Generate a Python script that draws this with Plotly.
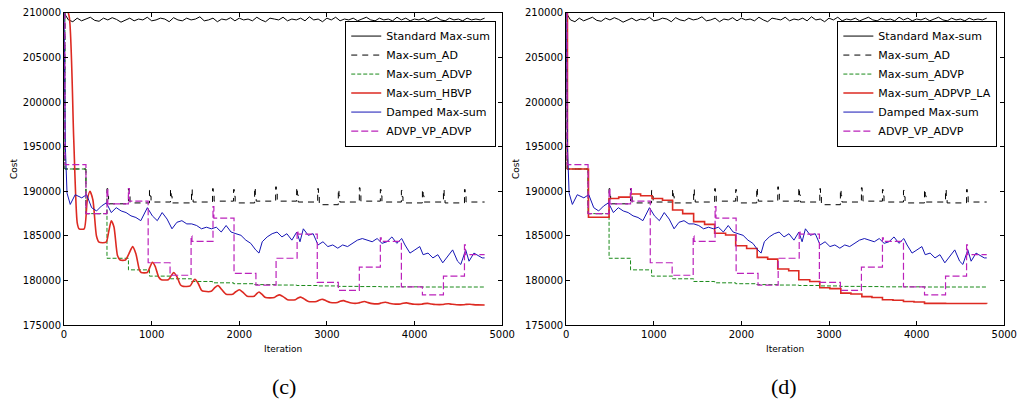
import plotly.graph_objects as go

# ---------------- data ----------------
# Standard Max-sum (noisy, sampled every 50 iterations)
std_step = 50
std_cost = [210000, 209200, 209000, 209400, 209100, 209300, 209500, 209150, 209050, 209400,
            209200, 209450, 209250, 208950, 209200, 209400, 209100, 209300, 209200, 209500,
            209100, 209200, 209400, 209300, 209000, 209450, 209200, 209100, 209400, 209200,
            209300, 209550, 209100, 209200, 209400, 209000, 209300, 209200, 209450, 209100,
            209400, 209200, 209300, 209100, 209500, 209200, 209000, 209400, 209300, 209200,
            209500, 209100, 209300, 209200, 209400, 209100, 209550, 209200, 209300, 209000,
            209400, 209200, 209500, 209100, 209300, 209200, 209400, 209100, 209300, 209500,
            209200, 209100, 209400, 209200, 209300, 209100, 209500, 209200, 209400, 209100,
            209300, 209200, 209400, 209100, 209300, 209500, 209200, 209100, 209400, 209200,
            209300, 209100, 209400, 209200, 209300, 209200, 209400]

# Max-sum_AD: initial part + periodic spikes
ad_start_iter = [0, 10, 250]
ad_start_cost = [210000, 192500, 187500]
ad_spike_iter = [490, 735, 975, 1215, 1455, 1695, 1935, 2175, 2415, 2655, 2895, 3130,
                 3370, 3610, 3850, 4090, 4330, 4570]
ad_spike_peak = [190300, 190300, 190100, 190200, 190200, 190300, 190200, 190400, 190500,
                 190400, 190300, 190200, 190400, 190200, 190100, 190200, 190200, 190200]
ad_spike_base = [188600, 188700, 188800, 188700, 188800, 188900, 188700, 188900, 188900,
                 188800, 188500, 188800, 188900, 188800, 188700, 188800, 188700, 188800]
ad_end_iter = 4800

# Max-sum_ADVP (step)
advp_iter = [0, 10, 250, 490, 735, 975, 1215, 1455, 1695, 1935, 2175, 2415, 2655, 2895,
             3130, 3370, 3610, 3850, 4090, 4330, 4800]
advp_cost = [210000, 192500, 187500, 182500, 181200, 180500, 180200, 179900, 179750, 179650,
             179550, 179500, 179450, 179400, 179350, 179330, 179300, 179300, 179280, 179280,
             179280]

# Max-sum_HBVP (panel c)
hbvp_iter = [0, 60, 110, 150, 172, 230, 265, 296, 330, 370, 400, 480, 510, 539, 570, 610, 640,
             700, 740, 783, 820, 860, 880, 950, 980, 1008, 1040, 1080, 1110, 1190, 1220,
             1251, 1290, 1330, 1360, 1440, 1470, 1494, 1530, 1570, 1600, 1680, 1720, 1757,
             1800, 1850, 1925, 1960, 2000, 2040, 2090, 2170, 2200, 2225, 2260, 2300, 2400,
             2430, 2460, 2500, 2550, 2640, 2670, 2700, 2740, 2790, 2880, 2910, 2950, 2990,
             3040, 3120, 3150, 3190, 3230, 3280, 3360, 3390, 3430, 3470, 3520, 3600, 3630,
             3670, 3710, 3760, 3840, 3870, 3910, 3950, 4000, 4080, 4110, 4150, 4190, 4240,
             4320, 4350, 4390, 4430, 4480, 4560, 4590, 4630, 4670, 4720, 4800]
hbvp_cost = [211500, 209500, 196000, 186500, 185800, 185800, 189000, 190000, 189000, 185000,
             184300, 184300, 185500, 186700, 186000, 182800, 182300, 182300, 183000, 183800,
             183000, 181200, 180900, 180900, 181500, 182050, 181600, 180400, 180100, 180100,
             180500, 180900, 180400, 179500, 179350, 179400, 179900, 180150, 179700, 178900,
             178800, 178800, 179200, 179450, 179000, 178470, 178470, 178750, 178970, 178700,
             178250, 178250, 178550, 178720, 178450, 178100, 178100, 178300, 178400, 178200,
             177850, 177850, 178050, 178150, 177950, 177650, 177650, 177800, 177900, 177750,
             177550, 177550, 177680, 177750, 177620, 177480, 177480, 177580, 177650, 177530,
             177420, 177420, 177520, 177570, 177470, 177380, 177380, 177460, 177500, 177420,
             177350, 177350, 177420, 177450, 177380, 177320, 177320, 177370, 177400, 177340,
             177290, 177290, 177330, 177350, 177310, 177280, 177270]

# Max-sum_ADPVP_LA (panel d, step)
la_iter = [0, 15, 255, 490, 600, 735, 850, 980, 1100, 1215, 1330, 1455, 1580, 1695, 1820,
           1935, 2060, 2180, 2300, 2415, 2540, 2655, 2780, 2895, 3010, 3135, 3250, 3375,
           3490, 3610, 3730, 3850, 3970, 4090, 4330, 4800]
la_cost = [211000, 192500, 187100, 189200, 189350, 189700, 189500, 189200, 189000, 187900,
           187500, 186600, 186300, 185300, 185100, 183900, 183600, 182600, 182400, 181300,
           181100, 180100, 179900, 179200, 179100, 178600, 178500, 178200, 178100, 177850,
           177800, 177650, 177600, 177450, 177430, 177400]

# Damped Max-sum (noisy)
damped_iter = [0, 15, 34, 71, 127, 202, 258, 315, 371, 427, 483, 539, 596, 652, 708, 764,
               820, 876, 951, 1008, 1064, 1120, 1176, 1232, 1288, 1345, 1401, 1457, 1513,
               1569, 1625, 1682, 1738, 1794, 1850, 1906, 1962, 2019, 2075, 2131, 2187, 2225,
               2262, 2318, 2375, 2431, 2487, 2543, 2600, 2656, 2693, 2731, 2787, 2843, 2899,
               2955, 3011, 3067, 3124, 3180, 3236, 3292, 3348, 3404, 3461, 3517, 3573, 3629,
               3685, 3742, 3798, 3854, 3891, 3948, 4004, 4060, 4098, 4154, 4210, 4266, 4322,
               4378, 4435, 4491, 4528, 4584, 4622, 4678, 4734, 4772, 4800]
damped_cost = [210000, 195000, 189800, 188530, 189620, 189270, 189620, 188170, 187800,
               188350, 188710, 187620, 188170, 187800, 187620, 187250, 187070, 186710,
               188170, 187250, 186710, 187620, 186890, 185800, 186530, 186710, 186350,
               186350, 186170, 185800, 185980, 185800, 185980, 185440, 186170, 185440,
               185250, 185070, 184530, 184170, 183440, 183080, 184350, 184890, 185250,
               185440, 184890, 185250, 184530, 185440, 184350, 185800, 185070, 185250,
               183990, 184350, 183810, 183990, 183630, 183990, 183810, 184170, 184530,
               184710, 184530, 184350, 184710, 184170, 184350, 184890, 184170, 184710,
               183990, 183080, 183440, 183810, 182900, 183080, 182540, 182900, 181990,
               182720, 183440, 182170, 181810, 183440, 182170, 183080, 182720, 182540,
               182540]

# ADVP_VP_ADVP (step with spikes)
vp_iter = [0, 10, 250, 490, 500, 735, 745, 960, 1210, 1450, 1460, 1700, 1710, 1940, 2190,
           2420, 2660, 2670, 2890, 3130, 3370, 3610, 3620, 3850, 4090, 4330, 4570, 4580, 4800]
vp_cost = [210000, 193000, 187500, 190300, 188600, 190300, 188900, 182000, 180600, 185000,
           184400, 188300, 187000, 180800, 179500, 182500, 185600, 185200, 179800, 178900,
           181500, 184800, 184400, 179300, 178400, 180500, 184000, 182900, 182900]

names_c = ["Standard Max-sum", "Max-sum_AD", "Max-sum_ADVP", "Max-sum_HBVP",
           "Damped Max-sum", "ADVP_VP_ADVP"]
names_d = ["Standard Max-sum", "Max-sum_AD", "Max-sum_ADVP", "Max-sum_ADPVP_LA",
           "Damped Max-sum", "ADVP_VP_ADVP"]
captions = ["(c)", "(d)"]

# ---------------- build derived paths ----------------
std_iter = list(range(0, std_step * len(std_cost), std_step))

ad_x = list(ad_start_iter)
ad_y = list(ad_start_cost)
for s, pk, base in zip(ad_spike_iter, ad_spike_peak, ad_spike_base):
    ad_x += [s, s + 8, s + 18]
    ad_y += [pk, (pk + base) / 2, base]
ad_x.append(ad_end_iter)
ad_y.append(ad_spike_base[-1])

# ---------------- figure ----------------
W, H = 1033, 412
fig = go.Figure()

col_black = "#000000"
col_green = "#1a8a1a"
col_red = "#dd2a22"
col_blue = "#1515b5"
col_mag = "#bb22bb"

panels = [("x", "y", "legend", names_c, (hbvp_iter, hbvp_cost, "spline")),
          ("x2", "y2", "legend2", names_d, (la_iter, la_cost, "hv"))]

for xa, ya, lg, names, red in panels:
    fig.add_trace(go.Scatter(x=std_iter, y=std_cost, mode="lines", name=names[0],
                             line=dict(color=col_black, width=1), xaxis=xa, yaxis=ya, legend=lg))
    fig.add_trace(go.Scatter(x=ad_x, y=ad_y, mode="lines", name=names[1], line_shape="hv",
                             line=dict(color=col_black, width=1, dash="6px,5px"),
                             xaxis=xa, yaxis=ya, legend=lg))
    fig.add_trace(go.Scatter(x=advp_iter, y=advp_cost, mode="lines", name=names[2], line_shape="hv",
                             line=dict(color=col_green, width=1, dash="4px,2px"),
                             xaxis=xa, yaxis=ya, legend=lg))
    red_line = dict(color=col_red, width=1.6)
    if red[2] == "spline":
        red_line["smoothing"] = 0.6
    fig.add_trace(go.Scatter(x=red[0], y=red[1], mode="lines", name=names[3], line_shape=red[2],
                             line=red_line, xaxis=xa, yaxis=ya, legend=lg))
    fig.add_trace(go.Scatter(x=damped_iter, y=damped_cost, mode="lines", name=names[4],
                             line=dict(color=col_blue, width=1),
                             xaxis=xa, yaxis=ya, legend=lg))
    fig.add_trace(go.Scatter(x=vp_iter, y=vp_cost, mode="lines", name=names[5], line_shape="hv",
                             line=dict(color=col_mag, width=1.2, dash="7px,3px"),
                             xaxis=xa, yaxis=ya, legend=lg))

font_fam = "DejaVu Sans, sans-serif"
ydom = [1 - 329 / H, 1 - 8 / H]
xdom1 = [62 / W, 507 / W]
xdom2 = [572 / W, 1017 / W]

def xaxis_cfg(dom, anchor):
    return dict(domain=dom, anchor=anchor, range=[0, 5000], dtick=1000, tick0=0,
                showline=True, linecolor="black", linewidth=1, mirror="allticks",
                ticks="inside", ticklen=4, tickcolor="black", showgrid=False, zeroline=False,
                tickfont=dict(family=font_fam, size=10, color="black"),
                title=dict(text="Iteration", font=dict(family=font_fam, size=9, color="black"),
                           standoff=6))

def yaxis_cfg(anchor):
    return dict(domain=ydom, anchor=anchor, range=[175000, 210000], dtick=5000, tick0=175000,
                showline=True, linecolor="black", linewidth=1, mirror="allticks",
                ticks="inside", ticklen=4, tickcolor="black", showgrid=False, zeroline=False,
                tickformat="d",
                tickfont=dict(family=font_fam, size=10, color="black"),
                title=dict(text="Cost", font=dict(family=font_fam, size=9, color="black"),
                           standoff=3))

legend_common = dict(bgcolor="white", bordercolor="black", borderwidth=1,
                     font=dict(family=font_fam, size=11, color="black"),
                     xanchor="right", yanchor="top", y=1 - 16 / H,
                     tracegroupgap=0, itemwidth=30)

fig.update_layout(
    width=W, height=H,
    margin=dict(l=0, r=0, t=0, b=0),
    paper_bgcolor="white", plot_bgcolor="white",
    xaxis=xaxis_cfg(xdom1, "y"),
    yaxis=yaxis_cfg("x"),
    xaxis2=xaxis_cfg(xdom2, "y2"),
    yaxis2=yaxis_cfg("x2"),
    legend=dict(x=501 / W, **legend_common),
    legend2=dict(x=1010 / W, **legend_common),
    showlegend=True,
)

for cap, cx in zip(captions, [285, 793]):
    fig.add_annotation(text=cap, x=cx / W, y=1 - 392 / H, xref="paper", yref="paper",
                       showarrow=False, xanchor="center", yanchor="middle",
                       font=dict(family="Liberation Serif, Times New Roman, serif", size=22,
                                 color="black"))

fig.write_html("out.html")
